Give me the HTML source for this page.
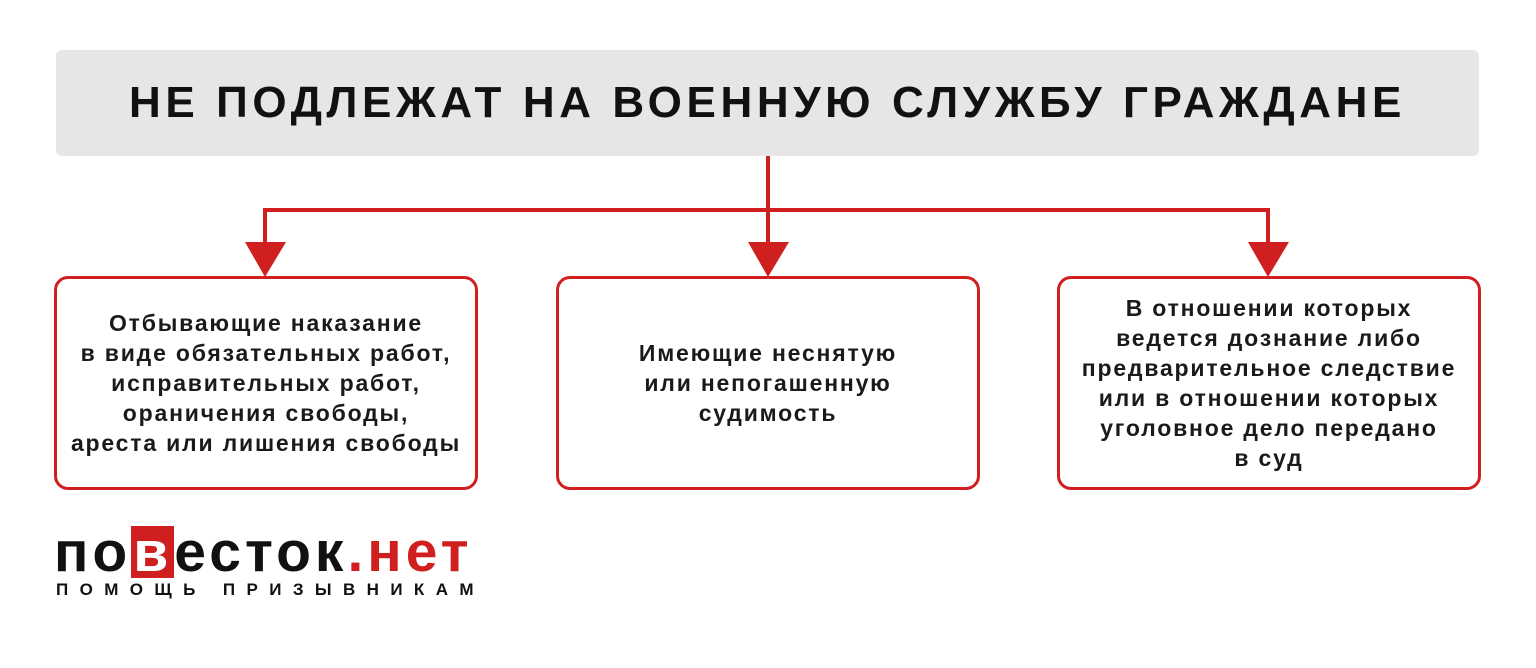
<!DOCTYPE html>
<html><head><meta charset="utf-8"><style>
body{margin:0;width:1536px;height:668px;background:#fff;font-family:"Liberation Sans",sans-serif;position:relative;overflow:hidden}
.hdr{position:absolute;left:56px;top:50px;width:1423px;height:106px;background:#e6e6e6;border-radius:6px;display:flex;align-items:center;justify-content:center;font-weight:bold;font-size:44px;letter-spacing:4.6px;color:#111;white-space:nowrap}
.box{position:absolute;top:276px;width:418px;height:208px;border:3px solid #d01f1f;border-radius:14px;display:flex;align-items:center;justify-content:center;text-align:center;font-size:23px;letter-spacing:1.8px;font-weight:bold;line-height:30px;color:#1a1a1a}
.logo{position:absolute;left:54px;top:522px;font-size:57px;font-weight:bold;letter-spacing:4px;color:#111;line-height:60px;white-space:nowrap}
.logo .b{background:#d01f1f;color:#fff;padding:0 2px;display:inline-block;line-height:52px}
.logo .r{color:#d01f1f}
.sub{position:absolute;left:56px;top:580px;font-size:17px;font-weight:bold;letter-spacing:11.4px;color:#111;white-space:nowrap}
</style></head><body>
<div class="hdr">НЕ ПОДЛЕЖАТ НА ВОЕННУЮ СЛУЖБУ ГРАЖДАНЕ</div>
<svg width="1536" height="668" style="position:absolute;left:0;top:0">
<g stroke="#d01f1f" stroke-width="4" fill="none">
<line x1="768" y1="156" x2="768" y2="245"/>
<polyline points="265,245 265,210 1268,210 1268,245"/>
</g>
<g fill="#d01f1f">
<polygon points="245,242 286,242 265,277"/>
<polygon points="748,242 789,242 768,277"/>
<polygon points="1248,242 1289,242 1268,277"/>
</g>
</svg>
<div class="box" style="left:54px">Отбывающие наказание<br>в виде обязательных работ,<br>исправительных работ,<br>ораничения свободы,<br>ареста или лишения свободы</div>
<div class="box" style="left:556px">Имеющие неснятую<br>или непогашенную<br>судимость</div>
<div class="box" style="left:1057px">В отношении которых<br>ведется дознание либо<br>предварительное следствие<br>или в отношении которых<br>уголовное дело передано<br>в суд</div>
<div class="logo">по<span class="b">в</span>есток<span class="r">.нет</span></div>
<div class="sub">ПОМОЩЬ ПРИЗЫВНИКАМ</div>
</body></html>
